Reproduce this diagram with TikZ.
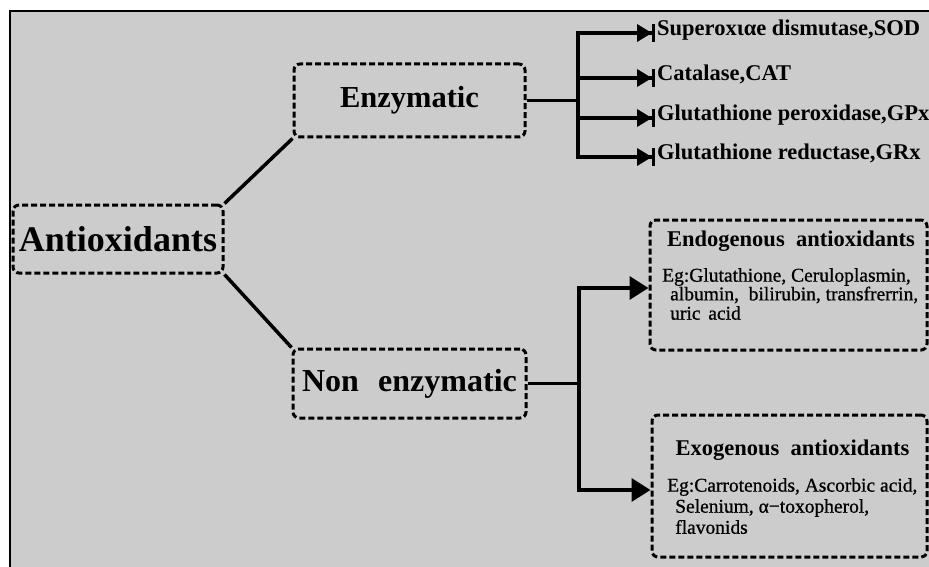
\documentclass[tikz,border=0pt]{standalone}
\usepackage{fontspec}
\setmainfont{Liberation Serif}
\newfontfamily\heavyserif{Liberation Serif}[FakeBold=0.8]
\usetikzlibrary{arrows.meta}
\definecolor{panelgrey}{RGB}{204,204,204}
\newcommand\setfs[1]{\fontsize{#1}{#1}\selectfont}
\tikzset{
  dotbox/.style={draw=black, line width=3pt, dash pattern=on 6pt off 3pt,
    rounded corners=6pt, inner sep=0pt, align=center},
  conn/.style={line width=3.5pt, draw=black},
  bartip/.style={-{Triangle[length=15pt,width=17pt]Bar[width=18pt,line width=3pt]}},
  fattip/.style={-{Triangle[length=19pt,width=23pt]}},
  item/.style={anchor=west, inner xsep=2pt, inner ysep=0pt, font=\bfseries\setfs{22.5},
    text height=0.7em, text depth=0.2em},
  body/.style={anchor=west, inner sep=0pt, font=\heavyserif\setfs{19.5}},
  ttl/.style={inner sep=0pt, font=\bfseries\setfs{22.5}}
}
\begin{document}
\begin{tikzpicture}[x=1pt, y=-1pt]
\useasboundingbox (0,0) rectangle (929,567);
% page, panel and its frame
\fill[white] (0,0) rectangle (929,567);
\fill[panelgrey] (10,11) rectangle (929,567);
\draw[line width=2.5pt] (10,567) -- (10,11) -- (929,11);

% main boxes
\node[dotbox, minimum width=210pt, minimum height=68pt, font=\bfseries\setfs{36}]
  (anti) at (118,239) {Antioxidants};
\node[dotbox, minimum width=231pt, minimum height=73pt, font=\bfseries\setfs{30.5}]
  (enz) at (409.5,100.5) {Enzymatic};
\node[dotbox, minimum width=233pt, minimum height=69pt, font=\bfseries\setfs{32}]
  (non) at (409.5,383.5) {Non\hspace{0.6em}enzymatic};

% enzymes
\node[item] (sod) at (655,33)  {Superoxιαe dismutase,SOD};
\node[item] (cat) at (655,78)  {Catalase,CAT};
\node[item] (gpx) at (655,118) {Glutathione peroxidase,GPx};
\node[item] (grx) at (655,157) {Glutathione reductase,GRx};

% non-enzymatic groups
\node[dotbox, minimum width=277pt, minimum height=130pt] (endo) at (788.5,285) {};
\node[ttl] (endoT) at (791,241) {Endogenous\hspace{0.5em}antioxidants};
\node[body] (endoA) at (662,277) {Eg:Glutathione, Ceruloplasmin,};
\node[body] (endoB) at (670,295) {albumin,\hspace{0.5em}bilirubin, transfrerrin,};
\node[body] (endoC) at (670,313) {uric\hspace{0.4em}acid};

\node[dotbox, minimum width=275pt, minimum height=142pt] (exo) at (789.5,486) {};
\node[ttl] (exoT) at (792.5,450) {Exogenous\hspace{0.5em}antioxidants};
\node[body] (exoA) at (667,487) {Eg:Carrotenoids, Ascorbic acid,};
\node[body] (exoB) at (675,508) {Selenium, α−toxopherol,};
\node[body] (exoC) at (675,527) {flavonids};

% bus points
\coordinate (ebus) at (578,100.5);
\coordinate (nbus) at (579,383.5);

% connectors
\draw[conn] (anti.north east) -- (enz.south west);
\draw[conn] (anti.south east) -- (non.north west);

\draw[conn] (enz.east) -- (ebus);
\draw[conn, bartip] (ebus) |- (sod.west);
\draw[conn, bartip] (ebus) |- (cat.west);
\draw[conn, bartip] (ebus) |- (gpx.west);
\draw[conn, bartip] (ebus) |- (grx.west);

\draw[conn] (non.east) -- (nbus);
\draw[conn, fattip] (nbus) |- ([yshift=-3pt]endo.west);
\draw[conn, fattip] (nbus) |- ([yshift=-4pt]exo.west);
\end{tikzpicture}
\end{document}
